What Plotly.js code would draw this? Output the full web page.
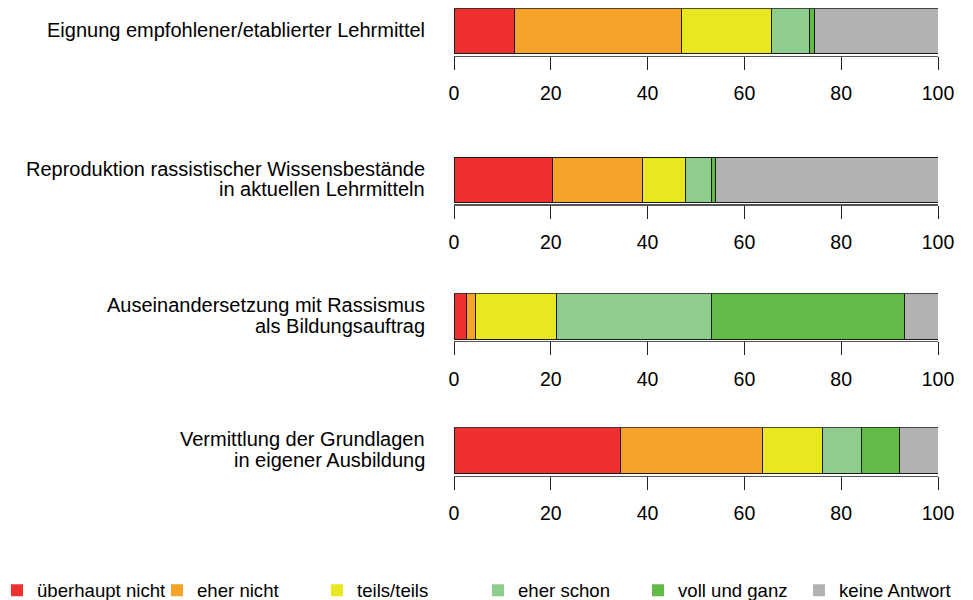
<!DOCTYPE html>
<html>
<head>
<meta charset="utf-8">
<script src="https://cdn.plot.ly/plotly-3.0.1.min.js"></script>
<style>html,body{margin:0;padding:0;background:#fff;}#chart{width:973px;height:600px;}</style>
</head>
<body>
<div id="chart"></div>
<script>
// Questions (label lines)
const categories = [
  ["Eignung empfohlener/etablierter Lehrmittel"],
  ["Reproduktion rassistischer Wissensbestände", "in aktuellen Lehrmitteln"],
  ["Auseinandersetzung mit Rassismus", "als Bildungsauftrag"],
  ["Vermittlung der Grundlagen", "in eigener Ausbildung"]
];
// Response categories
const responses = ["überhaupt nicht", "eher nicht", "teils/teils", "eher schon", "voll und ganz", "keine Antwort"];
const colors = ["#EE3030", "#F7A32A", "#E9E71F", "#8FCD8D", "#62BB46", "#B1B3B3"];
// Percentages per question, in response order
const q1 = [12.4, 34.5, 18.6, 8.0, 0.9, 25.6];
const q2 = [20.3, 18.7, 8.8, 5.3, 0.9, 46.0];
const q3 = [2.6, 1.9, 16.7, 31.9, 39.9, 7.0];
const q4 = [34.5, 29.2, 12.4, 8.0, 8.0, 7.9];
const values = [q1, q2, q3, q4];
const tickVals = [0, 20, 40, 60, 80, 100];

const FONT = "Liberation Sans, Arial, Helvetica, sans-serif";
const domains = [[0.9075, 0.98617], [0.65917, 0.73833], [0.43167, 0.51117], [0.2075, 0.28783]];
const L = 454, PW = 484;                 // plot-area left edge and width (px)
const legendLeftPx = [-3, 157, 317, 478, 638, 799];

const traces = [];
const layout = {
  width: 973, height: 600,
  margin: {l: L, r: 35, t: 0, b: 0, autoexpand: false},
  paper_bgcolor: "#fff", plot_bgcolor: "#fff",
  barmode: "stack",
  bargap: 0,
  font: {family: FONT, size: 19, color: "#000"},
  showlegend: true,
  annotations: []
};

const legendKey = ri => (ri === 0 ? "legend" : "legend" + (ri + 1));

responses.forEach((r, ri) => {
  layout[legendKey(ri)] = {
    orientation: "h", xref: "paper", yref: "paper",
    x: (legendLeftPx[ri] - L) / PW, y: -0.016, xanchor: "left", yanchor: "bottom",
    font: {family: FONT, size: 18.6, color: "#000"},
    itemclick: false, itemdoubleclick: false,
    bgcolor: "rgba(0,0,0,0)", borderwidth: 0
  };
});

values.forEach((vals, qi) => {
  const n = qi + 1;
  const xa = n === 1 ? "x" : "x" + n;
  const ya = n === 1 ? "y" : "y" + n;
  vals.forEach((v, ri) => {
    traces.push({
      type: "bar", orientation: "h",
      x: [v], y: [0],
      xaxis: xa, yaxis: ya,
      width: 1,
      name: responses[ri],
      legendgroup: responses[ri],
      showlegend: false,
      marker: {color: colors[ri], line: {color: "#1a1a1a", width: 1}},
      hoverinfo: "skip"
    });
  });
  const xKey = n === 1 ? "xaxis" : "xaxis" + n;
  const yKey = n === 1 ? "yaxis" : "yaxis" + n;
  layout[xKey] = {
    domain: [0, 1], anchor: ya, range: [0, 100],
    tickvals: tickVals, ticktext: tickVals.map(String),
    ticks: "outside", ticklen: 13, tickwidth: 1, tickcolor: "#222",
    ticklabelstandoff: 7,
    showline: true, linecolor: "#555", linewidth: 1.5,
    showgrid: false, zeroline: false, fixedrange: true,
    tickfont: {family: FONT, size: 19.5, color: "#000"}
  };
  layout[yKey] = {
    domain: domains[qi], anchor: xa, range: [-0.533, 0.5],
    showticklabels: false, ticks: "", showline: false, showgrid: false,
    zeroline: false, fixedrange: true
  };
  const lines = categories[qi];
  const lh = 20.5;
  lines.forEach((txt, li) => {
    const off = (li - (lines.length - 1) / 2) * lh;
    layout.annotations.push({
      xref: "paper", yref: ya, x: -27 / PW, y: 0,
      xanchor: "right", yanchor: "middle", align: "right",
      yshift: -off + 1,
      text: txt, showarrow: false,
      font: {family: FONT, size: 20, color: "#000"}
    });
  });
});

// Legend entries: borderless colour keys (no data drawn)
responses.forEach((r, ri) => {
  traces.push({
    type: "bar", orientation: "h",
    x: [null], y: [null],
    xaxis: "x", yaxis: "y",
    name: r, legend: legendKey(ri), legendgroup: r,
    showlegend: true,
    marker: {color: colors[ri], line: {width: 0}},
    hoverinfo: "skip"
  });
});

Plotly.newPlot("chart", traces, layout, {displayModeBar: false, staticPlot: true});
</script>
</body>
</html>
